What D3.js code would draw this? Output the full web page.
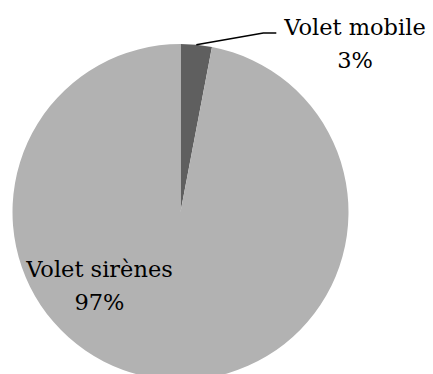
<!DOCTYPE html>
<html>
<head>
<meta charset="utf-8">
<script src="https://cdn.jsdelivr.net/npm/d3@7"></script>
<style>
  html, body { margin: 0; padding: 0; background: #fff; }
  svg text { font-family: "DejaVu Serif", serif; fill: #000; }
</style>
</head>
<body>
<svg id="chart" width="433" height="374"></svg>
<script>
// Share of each component (percent)
const categories = ["Volet mobile", "Volet sirènes"];
const shares = [3, 97];
const sliceColors = ["#5f5f5f", "#b2b2b2"];

const svg = d3.select("#chart");
const cx = 180.5, cy = 212, radius = 168;

const pie = d3.pie().sort(null).value(d => d)(shares);
const arc = d3.arc().innerRadius(0).outerRadius(radius);
const color = d3.scaleOrdinal().domain(categories).range(sliceColors);

const g = svg.append("g").attr("transform", `translate(${cx},${cy})`);
g.selectAll("path.slice")
  .data(pie)
  .join("path")
  .attr("class", "slice")
  .attr("d", arc)
  .attr("fill", (d, i) => color(categories[i]));

// Leader line for the small slice, from its outer edge to the label
const small = pie[0];
const mid = (small.startAngle + small.endAngle) / 2;
const edge = [Math.sin(mid) * radius, -Math.cos(mid) * radius];
g.append("polyline")
  .attr("points", [edge, [edge[0] + 67, -179], [edge[0] + 80, -179]].map(p => p.join(",")).join(" "))
  .attr("fill", "none")
  .attr("stroke", "#000")
  .attr("stroke-width", 1.6);

const fontSize = 22.5;
// Labels: category name on the first line, share on the second
const labels = [
  { x: 355, y: 35 },
  { x: 99.5, y: 277 }
];
categories.forEach((name, i) => {
  const t = svg.append("text")
    .attr("x", labels[i].x)
    .attr("y", labels[i].y)
    .attr("text-anchor", "middle")
    .attr("font-size", fontSize);
  t.append("tspan").attr("x", labels[i].x).text(name);
  t.append("tspan").attr("x", labels[i].x).attr("dy", 33).text(d3.format(".0f")(shares[i]) + "%");
});
</script>
</body>
</html>
